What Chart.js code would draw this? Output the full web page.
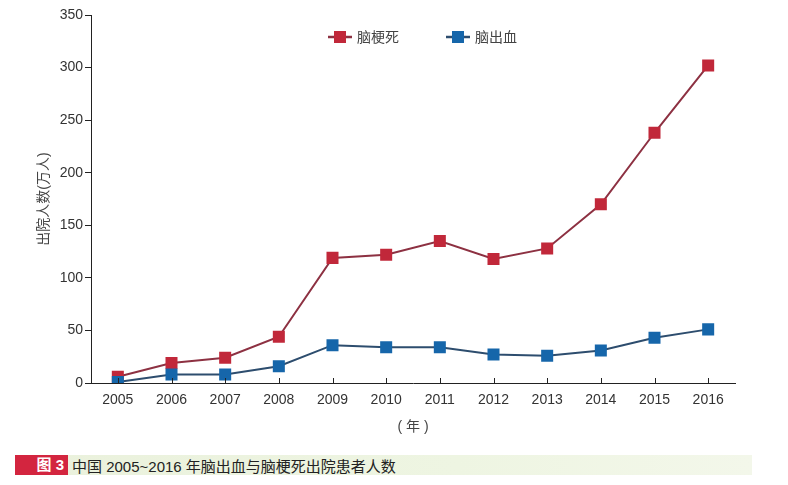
<!DOCTYPE html>
<html>
<head>
<meta charset="utf-8">
<script src="https://cdn.jsdelivr.net/npm/chart.js@4.4.1/dist/chart.umd.min.js"></script>
<style>
  html, body { margin: 0; padding: 0; background: #ffffff; }
  body { width: 788px; height: 485px; position: relative; overflow: hidden;
         font-family: "Liberation Sans", "Noto Sans CJK SC", sans-serif; }
  #wrap { position: absolute; left: 0; top: 0; width: 788px; height: 440px; }
  #cap { position: absolute; left: 15px; top: 455px; height: 20px; width: 737px;
         background: linear-gradient(to right, #eaf1dc, #eef5e2 60%, #f3f7ea); }
  #capTag { position: absolute; left: 0; top: 0; width: 53px; height: 20px; background: #d3253f;
            color: #fff; font: bold 15px "Liberation Sans", "Noto Sans CJK SC", sans-serif;
            line-height: 20px; text-align: right; padding-right: 0; box-sizing: border-box; padding-right: 4px; }
  #capText { position: absolute; left: 57px; top: 0; line-height: 20px; color: #222;
             font: 15px "Liberation Sans", "Noto Sans CJK SC", sans-serif; white-space: nowrap; }
</style>
</head>
<body>
<div id="wrap"><canvas id="c" width="788" height="440"></canvas></div>
<div id="cap"><div id="capTag">图 3</div><div id="capText">中国 2005~2016 年脑出血与脑梗死出院患者人数</div></div>
<script>
const years = ["2005","2006","2007","2008","2009","2010","2011","2012","2013","2014","2015","2016"];
const infarction = [6, 19, 24, 44, 119, 122, 135, 118, 128, 170, 238, 302];   // 脑梗死
const hemorrhage = [1, 8, 8, 16, 36, 34, 34, 27, 26, 31, 43, 51];            // 脑出血
const seriesNames = ["脑梗死", "脑出血"];
const yTicks = [0, 50, 100, 150, 200, 250, 300, 350];
const yTitle = "出院人数(万人)";
const xTitle = "( 年 )";

const FONT = "'Liberation Sans', 'Noto Sans CJK SC', sans-serif";

const innerTicks = {
  id: 'innerTicks',
  afterDraw(chart) {
    const x = chart.scales.x, ctx = chart.ctx;
    ctx.save();
    ctx.strokeStyle = '#222';
    ctx.lineWidth = 1;
    for (let i = 0; i < x.ticks.length; i++) {
      const px = Math.round(x.getPixelForTick(i)) + 0.5;
      ctx.beginPath();
      ctx.moveTo(px, x.top);
      ctx.lineTo(px, x.top - 5);
      ctx.stroke();
    }
    ctx.restore();
  }
};

const customLegend = {
  id: 'customLegend',
  afterDraw(chart) {
    const ctx = chart.ctx;
    const y = 37;
    const starts = [328, 446];
    ctx.save();
    ctx.font = '14px ' + FONT;
    ctx.textBaseline = 'middle';
    chart.data.datasets.forEach((ds, i) => {
      const x0 = starts[i];
      ctx.strokeStyle = ds.borderColor;
      ctx.lineWidth = 2.5;
      ctx.beginPath(); ctx.moveTo(x0, y); ctx.lineTo(x0 + 24, y); ctx.stroke();
      ctx.fillStyle = ds.pointBackgroundColor;
      ctx.fillRect(x0 + 6, y - 6, 12, 12);
      ctx.fillStyle = '#444';
      ctx.fillText(ds.label, x0 + 29, y + 1);
    });
    ctx.restore();
  }
};

new Chart(document.getElementById('c'), {
  type: 'line',
  data: {
    labels: years,
    datasets: [
      { label: seriesNames[0], data: infarction, order: 1,
        borderColor: '#8d3142', borderWidth: 2,
        pointStyle: 'rect', pointRadius: 8.5, pointHoverRadius: 8.5,
        pointBackgroundColor: '#c1283a', pointBorderColor: '#c1283a', pointBorderWidth: 0,
        tension: 0 },
      { label: seriesNames[1], data: hemorrhage, order: 0,
        borderColor: '#2d4d6e', borderWidth: 2,
        pointStyle: 'rect', pointRadius: 8.5, pointHoverRadius: 8.5,
        pointBackgroundColor: '#1666aa', pointBorderColor: '#1666aa', pointBorderWidth: 0,
        tension: 0 }
    ]
  },
  options: {
    responsive: false,
    animation: false,
    layout: { padding: { top: 15, right: 53, bottom: 0, left: 0 } },
    plugins: { legend: { display: false }, tooltip: { enabled: false } },
    scales: {
      x: {
        offset: true,
        afterFit(s) { s.height = 57; },
        grid: { display: true, drawOnChartArea: false, drawTicks: false },
        border: { display: true, color: '#222', width: 1 },
        ticks: { color: '#333', font: { family: FONT, size: 14 }, padding: 9, maxRotation: 0 },
        title: { display: true, text: xTitle, color: '#444', font: { family: FONT, size: 14 },
                 padding: { top: 0, bottom: 4 } }
      },
      y: {
        min: 0, max: 350,
        afterFit(s) { s.width = 91; },
        afterBuildTicks(s) { s.ticks = yTicks.map(v => ({ value: v })); },
        grid: { display: true, drawOnChartArea: false, drawTicks: true, tickLength: 6, color: '#222' },
        border: { display: true, color: '#222', width: 1 },
        ticks: { color: '#333', font: { family: FONT, size: 14 }, padding: 2 },
        title: { display: true, text: yTitle, color: '#444', font: { family: FONT, size: 14 },
                 padding: { top: 36, bottom: 0 } }
      }
    }
  },
  plugins: [innerTicks, customLegend]
});
</script>
</body>
</html>
